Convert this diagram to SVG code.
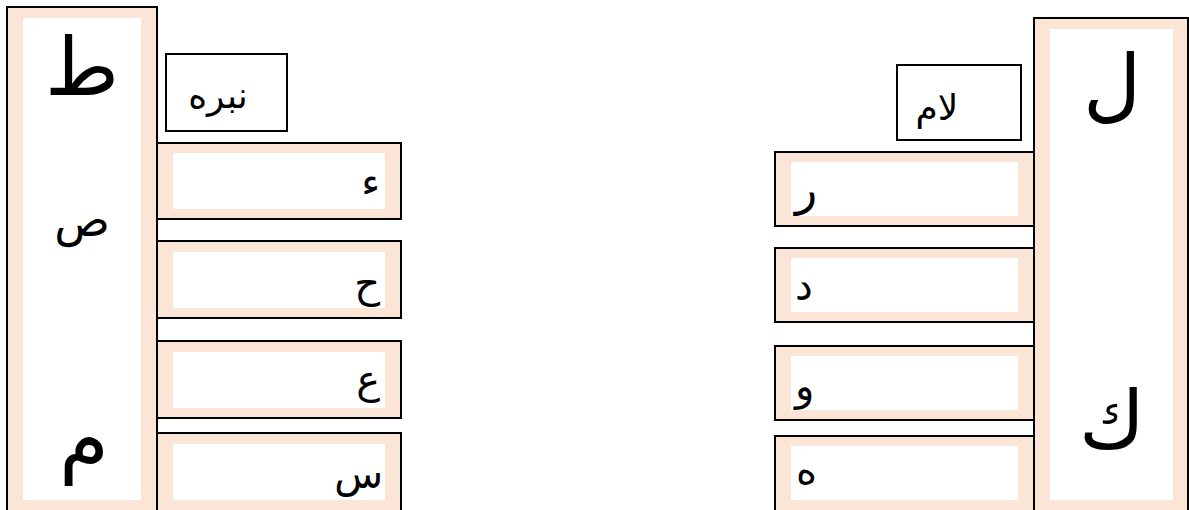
<svg xmlns="http://www.w3.org/2000/svg" width="1189" height="510" viewBox="0 0 1189 510">
<style>
.outer{fill:#FBE5D6;stroke:#000;stroke-width:2}
.inner{fill:#fff;stroke:none}
.lbl{fill:#fff;stroke:#000;stroke-width:2}
.t{font-family:"DejaVu Sans","Noto Sans",sans-serif;fill:#000}
.big{font-size:80px}
.mid{font-size:46px}
.sm{font-size:40px}
.lb{font-size:36px}
</style>
<g id="left-column">
<rect class="outer" x="7" y="7" width="150" height="504"/>
<rect class="inner" x="23" y="18" width="118" height="482"/>
<text class="t big" x="82" y="95" text-anchor="middle">ط</text>
<text class="t mid" x="82" y="236" text-anchor="middle">ص</text>
<text class="t big" x="84" y="467" text-anchor="middle">م</text>
</g>
<g id="label-nabra">
<rect class="lbl" x="166" y="54" width="121" height="77"/>
<text class="t lb" x="218" y="108" text-anchor="middle">نبره</text>
</g>
<g id="left-box-1">
<rect class="outer" x="157" y="143" width="244" height="76"/>
<rect class="inner" x="173" y="153" width="212" height="56"/>
<text class="t sm" x="380" y="196" text-anchor="end">ء</text>
</g>
<g id="left-box-2">
<rect class="outer" x="157" y="241" width="244" height="77"/>
<rect class="inner" x="173" y="252" width="212" height="56"/>
<text class="t sm" x="380" y="297" text-anchor="end">ح</text>
</g>
<g id="left-box-3">
<rect class="outer" x="157" y="341" width="244" height="77"/>
<rect class="inner" x="173" y="352" width="212" height="56"/>
<text class="t sm" x="380" y="393" text-anchor="end">ع</text>
</g>
<g id="left-box-4">
<rect class="outer" x="157" y="433" width="244" height="78"/>
<rect class="inner" x="173" y="444" width="212" height="56"/>
<text class="t sm" x="383" y="488" text-anchor="end">س</text>
</g>
<g id="right-column">
<rect class="outer" x="1034" y="18" width="154" height="493"/>
<rect class="inner" x="1050" y="29" width="123" height="471"/>
<text class="t big" x="1112" y="112" text-anchor="middle">ل</text>
<text class="t big" x="1112" y="448" text-anchor="middle">ك</text>
</g>
<g id="label-lam">
<rect class="lbl" x="897" y="65" width="124" height="75"/>
<text class="t lb" x="937" y="120" text-anchor="middle">لام</text>
</g>
<g id="right-box-1">
<rect class="outer" x="775" y="152" width="259" height="74"/>
<rect class="inner" x="791" y="162" width="227" height="54"/>
<text class="t sm" x="795" y="205" text-anchor="start" style="font-size:46px">ر</text>
</g>
<g id="right-box-2">
<rect class="outer" x="775" y="248" width="259" height="74"/>
<rect class="inner" x="791" y="258" width="227" height="54"/>
<text class="t sm" x="795" y="300" text-anchor="start">د</text>
</g>
<g id="right-box-3">
<rect class="outer" x="775" y="346" width="259" height="74"/>
<rect class="inner" x="791" y="356" width="227" height="54"/>
<text class="t sm" x="795" y="400" text-anchor="start">و</text>
</g>
<g id="right-box-4">
<rect class="outer" x="775" y="436" width="259" height="75"/>
<rect class="inner" x="791" y="446" width="227" height="54"/>
<text class="t sm" x="796" y="484" text-anchor="start">ه</text>
</g>
<g id="connectors"/>
</svg>
